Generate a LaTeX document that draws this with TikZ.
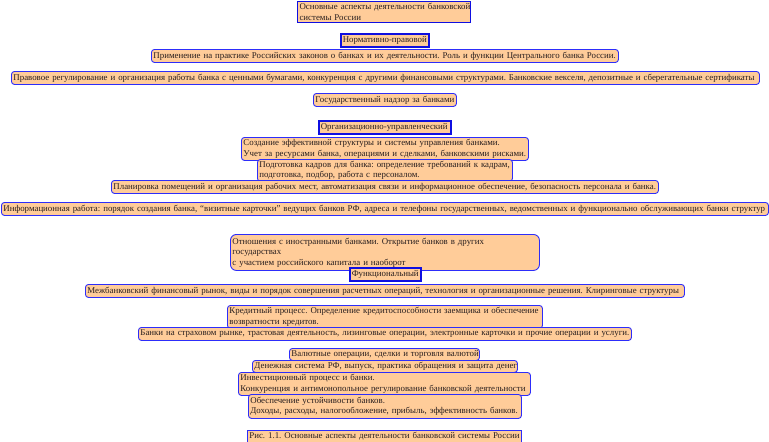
\documentclass[tikz,border=0pt]{standalone}
\usepackage{fontspec}
\setmainfont{Liberation Serif}
\frenchspacing
\definecolor{boxfill}{RGB}{255,204,153}
\definecolor{boxline}{RGB}{45,45,250}
\definecolor{headline}{RGB}{15,15,225}
\definecolor{textc}{RGB}{40,30,30}
\newcommand\fs{\fontsize{8.85}{10.6}\selectfont}
\tikzset{
  box/.style={draw=boxline, fill=boxfill, line width=0.9pt, rounded corners=3pt,
    anchor=north west, inner xsep=2pt, inner ysep=0pt, align=left, font=\fs, text=textc},
  head/.style={box, rounded corners=0pt, draw=headline, line width=1.5pt},
  capbox/.style={box, rounded corners=0pt, line width=0.8pt}
}
\begin{document}
\begin{tikzpicture}[x=1pt,y=-1pt]
\useasboundingbox (0,0) rectangle (769,442);
\node[head, line width=1.1pt, minimum width=173pt, minimum height=21pt, text width=169pt] (title) at (297,1)
  {\mbox{Основные аспекты деятельности банковской}\\\mbox{системы России}};
\node[head, minimum width=88pt, minimum height=13pt, text width=84pt] (norm) at (340,33) {\mbox{Нормативно-правовой}};
\node[box, minimum width=467pt, minimum height=13pt, text width=463pt] (prim) at (151,49)
  {\mbox{Применение на практике Российских законов о банках и их деятельности. Роль и функции Центрального банка России.}};
\node[box, minimum width=748pt, minimum height=13pt, text width=744pt] (prav) at (11,71)
  {\mbox{Правовое регулирование и организация работы банка с ценными бумагами, конкуренция с другими финансовыми структурами. Банковские векселя, депозитные и сберегательные сертификаты}};
\node[box, minimum width=143pt, minimum height=13pt, text width=139pt] (gos) at (313,93) {\mbox{Государственный надзор за банками}};
\node[head, minimum width=132pt, minimum height=13pt, text width=128pt] (org) at (318,120) {\mbox{Организационно-управленческий}};
\node[box, minimum width=287pt, minimum height=23pt, text width=283pt] (sozd) at (241,137)
  {\mbox{Создание эффективной структуры и системы управления банками.}\\\mbox{Учет за ресурсами банка, операциями и сделками, банковскими рисками.}};
\node[box, minimum width=255pt, minimum height=22pt, text width=251pt] (podg) at (257,159)
  {\mbox{Подготовка кадров для банка: определение требований к кадрам,}\\\mbox{подготовка, подбор, работа с персоналом.}};
\node[box, minimum width=547pt, minimum height=13pt, text width=543pt] (plan) at (111,180)
  {\mbox{Планировка помещений и организация рабочих мест, автоматизация связи и информационное обеспечение, безопасность персонала и банка.}};
\node[box, minimum width=767pt, minimum height=13pt, text width=763pt] (inf) at (1,202)
  {\mbox{Информационная работа: порядок создания банка, “визитные карточки” ведущих банков РФ, адреса и телефоны государственных, ведомственных и функционально обслуживающих банки структур}};
\node[box, rounded corners=6pt, minimum width=309pt, minimum height=36pt, text width=305pt] (otn) at (230,234)
  {\mbox{Отношения с иностранными банками. Открытие банков в других}\\\mbox{государствах}\\\mbox{с участием российского капитала и наоборот}};
\node[head, minimum width=71pt, minimum height=13pt, text width=67pt] (func) at (349,267) {\mbox{Функциональный}};
\node[box, minimum width=599pt, minimum height=13pt, text width=595pt] (mezh) at (85,284)
  {\mbox{Межбанковский финансовый рынок, виды и порядок совершения расчетных операций, технология и организационные решения. Клиринговые структуры}};
\node[box, minimum width=315pt, minimum height=23pt, text width=311pt] (kred) at (227,305)
  {\mbox{Кредитный процесс. Определение кредитоспособности заемщика и обеспечение}\\\mbox{возвратности кредитов.}};
\node[box, minimum width=493pt, minimum height=13pt, text width=489pt] (bank) at (138,327)
  {\mbox{Банки на страховом рынке, трастовая деятельность, лизинговые операции, электронные карточки и прочие операции и услуги.}};
\node[box, minimum width=190pt, minimum height=12pt, text width=186pt] (val) at (289,348)
  {\mbox{Валютные операции, сделки и торговля валютой}};
\node[box, minimum width=265pt, minimum height=12pt, text width=261pt] (den) at (252,360)
  {\mbox{Денежная система РФ, выпуск, практика обращения и защита денег}};
\node[box, minimum width=292pt, minimum height=23pt, text width=288pt] (inv) at (238,372)
  {\mbox{Инвестиционный процесс и банки.}\\\mbox{Конкуренция и антимонопольное регулирование банковской деятельности}};
\node[box, minimum width=273pt, minimum height=24pt, text width=269pt] (obes) at (248,394)
  {\mbox{Обеспечение устойчивости банков.}\\\mbox{Доходы, расходы, налогообложение, прибыль, эффективность банков.}};
\node[capbox, minimum width=274pt, minimum height=12pt, text width=270pt] (ris) at (247,430)
  {\mbox{Рис. 1.1. Основные аспекты деятельности банковской системы России}};
\end{tikzpicture}
\end{document}
